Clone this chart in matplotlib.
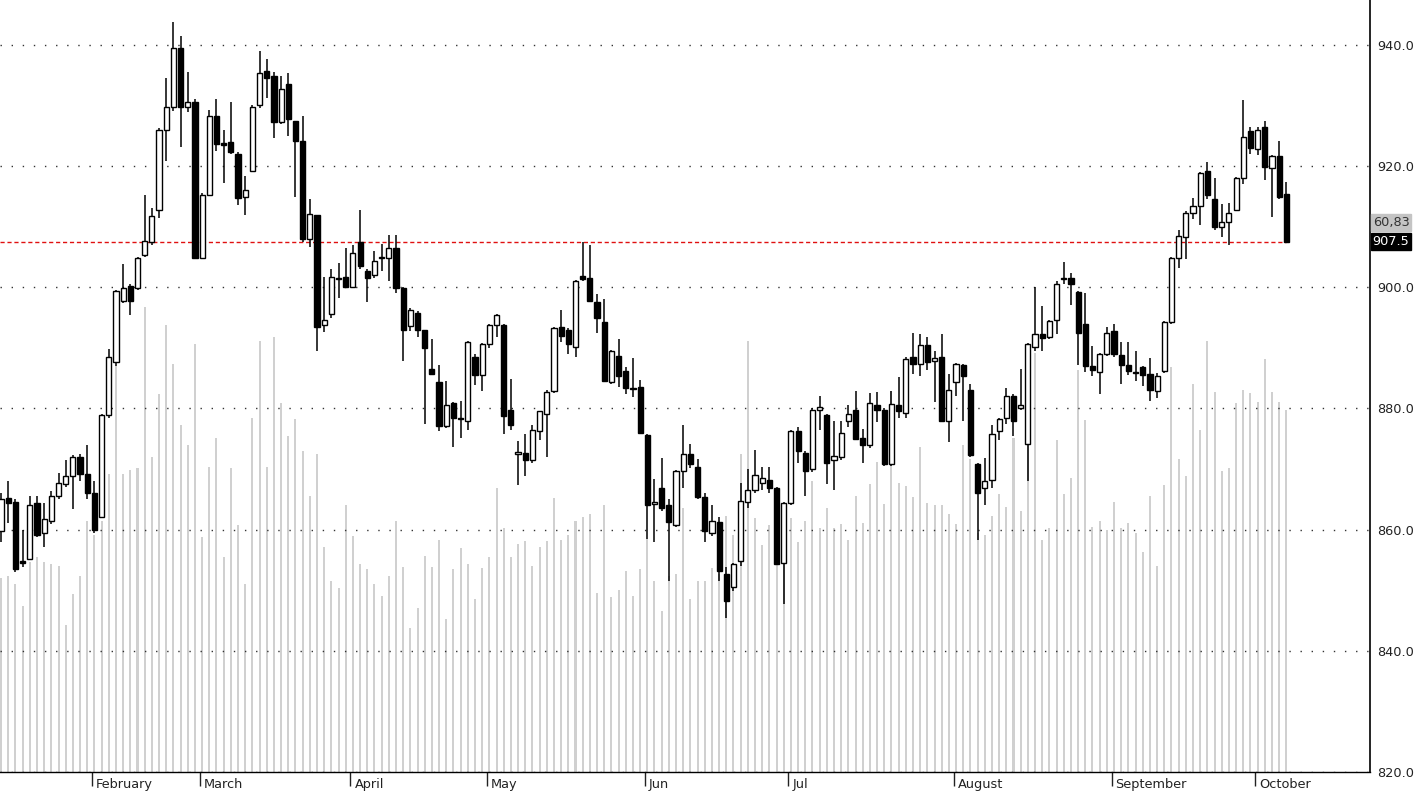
import numpy as np
import matplotlib
matplotlib.use("Agg")
import matplotlib.pyplot as plt
from matplotlib import transforms

# daily candles (mid January -> early October)
opens = [
    859.8, 865.2, 864.5, 854.8, 855.1, 864.4, 859.4, 861.5, 865.6, 867.6,
    868.8, 872.0, 869.2, 866.0, 862.1, 878.9, 887.7, 897.8, 900.2, 899.8,
    905.3, 907.5, 912.7, 926.0, 929.7, 939.5, 929.7, 930.5, 904.9, 915.3,
    928.3, 923.8, 923.9, 922.0, 914.9, 919.2, 930.1, 935.7, 934.9, 927.3,
    933.5, 927.4, 924.2, 907.9, 911.9, 893.8, 895.6, 901.6, 901.7, 900.1,
    907.5, 902.7, 902.1, 904.8, 904.9, 906.5, 899.8, 893.6, 895.8, 893.0,
    886.5, 884.4, 877.1, 880.9, 878.3, 877.9, 888.5, 885.5, 890.6, 893.8,
    893.8, 879.8, 872.5, 872.6, 871.5, 876.3, 879.0, 882.9, 893.5, 893.0,
    890.2, 901.9, 901.5, 897.6, 894.2, 884.4, 888.7, 886.1, 883.3, 883.5,
    875.6, 864.3, 866.8, 864.0, 860.7, 869.6, 872.4, 870.4, 865.3, 859.4,
    861.3, 852.7, 850.5, 854.8, 864.5, 866.6, 867.7, 868.2, 866.9, 854.5,
    864.4, 876.3, 872.7, 870.0, 879.7, 878.9, 871.5, 872.0, 877.9, 879.8,
    875.2, 873.9, 880.6, 879.7, 870.8, 880.6, 879.3, 888.5, 887.3, 890.4,
    887.9, 888.5, 877.9, 884.4, 887.1, 883.1, 870.8, 866.8, 868.2, 876.3,
    878.5, 882.1, 880.0, 874.2, 890.2, 892.3, 891.8, 894.6, 901.4, 901.5,
    899.2, 894.0, 887.0, 886.0, 889.0, 892.7, 888.8, 887.1, 885.9, 886.8,
    885.7, 882.9, 886.1, 894.2, 904.9, 908.3, 912.3, 913.4, 919.2, 914.6,
    909.9, 910.7, 912.7, 918.0, 925.8, 922.8, 926.4, 919.6, 921.6, 915.4,
]
highs = [
    866.0, 868.0, 865.0, 860.0, 865.5, 865.5, 864.4, 866.4, 869.4, 871.5,
    872.3, 872.5, 874.0, 868.0, 879.0, 889.8, 899.5, 903.9, 900.5, 905.0,
    915.2, 913.1, 926.2, 934.5, 943.8, 941.4, 935.5, 931.0, 915.5, 929.3,
    931.1, 925.9, 930.6, 922.3, 918.4, 930.0, 939.0, 937.6, 935.5, 934.9,
    935.3, 927.5, 928.2, 914.5, 912.0, 901.7, 903.0, 904.0, 906.5, 907.0,
    912.7, 903.0, 905.9, 907.1, 908.7, 908.7, 900.0, 896.6, 896.0, 893.0,
    891.5, 887.1, 884.5, 881.0, 881.3, 891.2, 889.0, 890.8, 894.0, 895.6,
    894.0, 884.9, 874.7, 875.8, 877.3, 879.6, 883.0, 893.4, 896.2, 893.2,
    901.2, 907.5, 907.0, 898.8, 898.0, 889.6, 891.4, 886.9, 888.4, 884.7,
    875.8, 868.4, 871.8, 865.0, 869.8, 877.3, 874.2, 871.6, 866.0, 864.0,
    862.1, 853.9, 854.5, 867.7, 870.0, 873.2, 870.4, 870.4, 867.0, 864.5,
    876.5, 876.9, 873.0, 880.0, 882.1, 879.0, 878.0, 878.0, 880.6, 882.9,
    876.6, 882.5, 882.7, 880.0, 882.9, 885.2, 888.5, 892.4, 892.2, 891.8,
    889.5, 892.2, 885.7, 887.5, 887.3, 884.1, 871.0, 871.8, 877.3, 878.5,
    883.3, 882.3, 886.5, 890.8, 900.0, 896.9, 894.6, 901.0, 904.1, 902.3,
    899.4, 899.0, 890.3, 889.2, 893.5, 894.0, 891.0, 891.0, 889.4, 887.0,
    888.3, 885.8, 894.4, 905.0, 909.5, 912.5, 914.8, 919.0, 920.6, 918.1,
    913.7, 913.9, 918.2, 930.9, 926.5, 926.5, 927.4, 921.8, 924.2, 917.3,
]
lows = [
    858.0, 861.1, 853.0, 853.9, 855.0, 858.7, 857.1, 861.0, 865.0, 867.0,
    863.4, 868.0, 865.0, 859.5, 862.0, 878.5, 887.0, 897.4, 895.4, 899.5,
    905.0, 907.0, 911.5, 920.8, 929.0, 923.2, 928.9, 904.9, 904.9, 915.0,
    922.4, 917.2, 922.0, 913.5, 912.0, 919.0, 929.5, 931.3, 924.7, 927.0,
    925.0, 914.9, 907.5, 906.7, 889.4, 892.6, 895.0, 898.2, 899.8, 900.0,
    903.0, 897.6, 901.5, 902.7, 901.0, 899.0, 887.9, 892.7, 891.8, 877.4,
    885.5, 876.3, 876.8, 873.6, 875.2, 876.5, 883.9, 882.9, 890.0, 891.8,
    875.8, 876.5, 867.4, 868.8, 871.0, 874.8, 872.0, 882.5, 891.0, 889.0,
    888.5, 901.0, 897.5, 892.4, 884.5, 884.0, 883.5, 882.3, 881.9, 875.8,
    858.5, 857.9, 863.0, 851.5, 860.5, 866.9, 870.2, 865.0, 857.9, 859.0,
    851.5, 845.4, 849.8, 854.0, 863.5, 866.0, 866.6, 866.0, 854.3, 847.8,
    864.0, 871.0, 865.6, 869.5, 876.5, 867.6, 866.6, 871.5, 876.9, 874.8,
    871.0, 873.5, 877.8, 870.5, 870.5, 878.5, 878.5, 885.7, 885.3, 886.3,
    881.0, 877.8, 874.4, 882.0, 877.9, 872.0, 858.3, 864.0, 866.9, 874.8,
    877.4, 875.5, 879.7, 868.0, 889.5, 889.4, 891.4, 892.2, 900.5, 897.0,
    887.1, 886.0, 885.3, 882.3, 888.7, 888.5, 884.0, 885.5, 884.5, 883.7,
    881.3, 881.7, 885.8, 894.0, 903.1, 904.7, 911.3, 910.2, 914.5, 909.5,
    908.3, 906.9, 912.5, 917.0, 922.0, 921.9, 917.7, 911.6, 914.5, 907.5,
]
closes = [
    865.0, 864.4, 853.5, 854.5, 864.0, 859.1, 861.8, 865.6, 867.7, 868.8,
    872.0, 869.2, 866.0, 860.0, 878.9, 888.5, 899.4, 899.8, 897.8, 904.9,
    907.7, 911.8, 926.0, 929.7, 939.5, 929.7, 930.6, 904.9, 915.3, 928.3,
    923.6, 923.4, 922.3, 914.8, 916.1, 929.8, 935.3, 934.5, 927.3, 932.7,
    927.7, 924.2, 907.9, 912.1, 893.4, 894.6, 901.7, 901.4, 900.1, 905.7,
    903.5, 901.5, 904.3, 905.0, 906.5, 899.8, 893.0, 896.2, 893.0, 890.0,
    885.7, 877.1, 880.5, 878.5, 878.2, 891.0, 885.5, 890.6, 893.8, 895.4,
    878.7, 877.3, 872.8, 871.5, 876.5, 879.5, 882.7, 893.2, 892.0, 890.6,
    901.0, 901.3, 897.8, 895.0, 884.5, 889.4, 885.3, 883.3, 883.2, 876.0,
    864.0, 864.4, 863.5, 861.3, 869.6, 872.4, 870.8, 865.3, 859.7, 861.5,
    853.1, 848.2, 854.3, 864.8, 866.6, 869.0, 868.6, 866.8, 854.3, 864.4,
    876.3, 873.0, 869.6, 879.8, 880.2, 871.0, 872.2, 876.0, 879.0, 875.0,
    873.9, 880.9, 879.8, 870.8, 880.7, 879.5, 888.1, 887.3, 890.4, 887.7,
    888.3, 877.9, 883.1, 887.3, 885.3, 872.3, 866.1, 868.0, 875.8, 878.2,
    882.1, 877.9, 880.6, 890.6, 892.2, 891.6, 894.4, 900.6, 901.5, 900.5,
    892.4, 887.0, 886.3, 889.0, 892.4, 889.0, 887.2, 886.1, 885.8, 885.5,
    883.0, 885.3, 894.2, 904.8, 908.5, 912.3, 913.4, 918.8, 915.2, 909.9,
    910.7, 912.3, 918.0, 924.8, 923.0, 926.0, 919.8, 921.6, 914.9, 907.5,
]
volumes = [
    320, 323, 310, 274, 347, 355, 347, 343, 340, 242,
    294, 323, 415, 391, 415, 492, 670, 492, 498, 502,
    768, 520, 623, 738, 673, 573, 540, 706, 387, 504,
    552, 355, 502, 407, 310, 585, 711, 504, 718, 609,
    555, 582, 530, 456, 524, 371, 316, 303, 441, 389,
    343, 335, 310, 290, 323, 415, 339, 238, 270, 356,
    339, 383, 252, 335, 369, 343, 285, 336, 355, 469,
    403, 355, 377, 381, 340, 371, 381, 452, 383, 391,
    415, 421, 426, 296, 440, 289, 300, 331, 290, 335,
    385, 316, 265, 323, 327, 435, 286, 316, 316, 337,
    327, 422, 391, 524, 711, 419, 375, 407, 415, 347,
    419, 379, 415, 480, 403, 435, 403, 410, 383, 456,
    411, 476, 512, 442, 629, 477, 472, 453, 536, 444,
    440, 440, 426, 409, 540, 516, 395, 391, 423, 458,
    437, 552, 431, 550, 692, 383, 403, 548, 458, 485,
    663, 581, 405, 415, 399, 445, 403, 411, 395, 363,
    456, 340, 474, 668, 516, 488, 641, 565, 711, 627,
    496, 502, 609, 631, 625, 611, 681, 627, 611, 598,
]

# first trading day of each month (candle index)
months = ["February", "March", "April", "May", "Jun", "Jul",
          "August", "September", "October"]
month_start = [13, 28, 49, 68, 90, 110, 133, 155, 175]

indicator_label = "60,83"

o = np.array(opens)
h = np.array(highs)
l = np.array(lows)
c = np.array(closes)
x = np.arange(len(o))
up = c >= o

W, H = 1417, 796
fig = plt.figure(figsize=(W / 100, H / 100), dpi=100)
rect = [0, 24 / H, 1370 / W, 772 / H]

# volume in the background
axv = fig.add_axes(rect, zorder=0)
axv.bar(x, volumes, width=0.28, color="#d0d0d0", linewidth=0)
axv.set_ylim(0, 1274)
axv.set_xlim(-0.15, 190.65)
axv.axis("off")

ax = fig.add_axes(rect, zorder=1)
ax.patch.set_visible(False)

# candles
ax.vlines(x, l, h, color="black", linewidth=1.1, zorder=3)
body_low = np.minimum(o, c)
body_h = np.maximum(np.abs(c - o), 0.18)
ax.bar(x, body_h, bottom=body_low, width=0.72,
       color=np.where(up, "white", "black"), edgecolor="black",
       linewidth=1.0, zorder=4)

# last close reference line
last = closes[-1]
ax.hlines(last, -0.15, x[-1], colors="#e01010", linestyles=(0, (3, 2)),
          linewidth=1.0, zorder=2)

ax.set_xlim(-0.15, 190.65)
ax.set_ylim(820, 947.4)

ax.yaxis.tick_right()
ax.set_yticks(np.arange(820, 941, 20))
ax.set_yticklabels([f"{v:.1f}" for v in np.arange(820, 941, 20)])
ax.tick_params(axis="y", length=0, pad=5, labelsize=9.3, colors="#222222")
ax.yaxis.grid(True, linestyle=(0, (1, 7)), color="#333333", linewidth=1.0)
ax.set_axisbelow(True)

ax.set_xticks(np.array(month_start) - 0.35)
ax.set_xticklabels(months, ha="left")
ax.tick_params(axis="x", length=10, width=1, direction="out", pad=-9,
               labelsize=9.3, colors="#222222")
shift = transforms.ScaledTranslation(4 / 100, -5 / 100, fig.dpi_scale_trans)
for lab in ax.get_xticklabels():
    lab.set_transform(lab.get_transform() + shift)

for s in ["left", "top"]:
    ax.spines[s].set_visible(False)
ax.spines["bottom"].set_linewidth(1.0)
ax.spines["right"].set_linewidth(1.2)

# value tags on the price axis
tr = transforms.blended_transform_factory(ax.transAxes, ax.transData)
ax.text(1.002, last, f"{last:.1f}", transform=tr, ha="left", va="center",
        fontsize=9.3, color="white", clip_on=False,
        bbox=dict(boxstyle="square,pad=0.15", fc="black", ec="black"))
ax.text(1.002, last + 3.2, indicator_label, transform=tr, ha="left",
        va="center", fontsize=9.3, color="#333333", clip_on=False,
        bbox=dict(boxstyle="square,pad=0.15", fc="#c4c4c4", ec="#c4c4c4"))

fig.savefig("out.png", dpi=100)
